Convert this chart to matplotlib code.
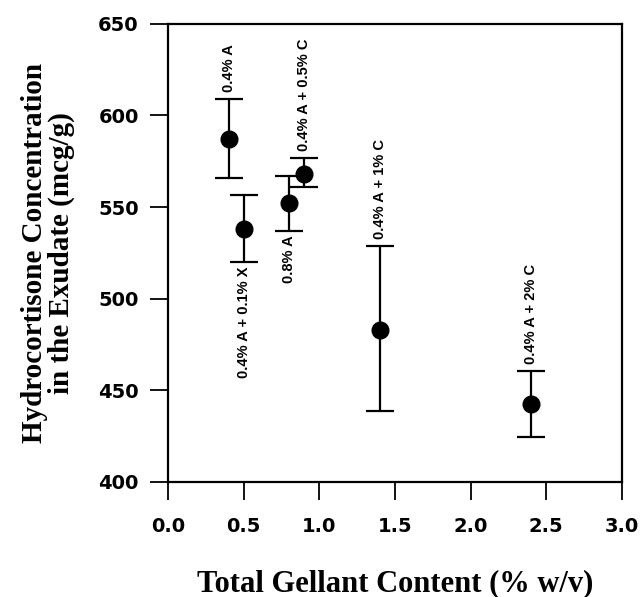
import matplotlib
matplotlib.use('Agg')
import matplotlib.pyplot as plt

# данные
gellant = [0.4, 0.5, 0.8, 0.9, 1.4, 2.4]
concentration = [587, 538, 552, 568, 483, 442.5]
err_low = [21, 18, 15, 7, 44.5, 18]
err_high = [22, 18.5, 15, 9, 45.5, 18]
labels = ['0.4% A', '0.4% A + 0.1% X', '0.8% A', '0.4% A + 0.5% C',
          '0.4% A + 1% C', '0.4% A + 2% C']
label_above = [True, False, False, True, True, True]

x_ticks = [0.0, 0.5, 1.0, 1.5, 2.0, 2.5, 3.0]
y_ticks = [400, 450, 500, 550, 600, 650]

fig = plt.figure(figsize=(6.4, 5.97), dpi=100)
ax = fig.add_axes([0.2625, 0.193, 0.709, 0.767])

ax.errorbar(gellant, concentration, yerr=[err_low, err_high], fmt='o',
            color='black', markersize=12, capsize=10, elinewidth=1.6,
            capthick=1.6)

for x, y, lo, hi, text, above in zip(gellant, concentration, err_low,
                                     err_high, labels, label_above):
    if above:
        ax.annotate(text, (x, y + hi), xytext=(0, 5), textcoords='offset points',
                    rotation=90, ha='center', va='bottom', fontsize=10.5,
                    fontweight='bold', family='Liberation Sans')
    else:
        ax.annotate(text, (x, y - lo), xytext=(0, -3), textcoords='offset points',
                    rotation=90, ha='center', va='top', fontsize=10.5,
                    fontweight='bold', family='Liberation Sans')

ax.set_xlim(0, 3.0)
ax.set_ylim(400, 650)
ax.set_xticks(x_ticks)
ax.set_yticks(y_ticks)
ax.set_xticklabels(['%.1f' % t for t in x_ticks])
ax.tick_params(direction='out', length=13, width=1.3, labelsize=14, pad=8)
ax.tick_params(axis='x', pad=12)
for lbl in ax.get_xticklabels() + ax.get_yticklabels():
    lbl.set_fontfamily('DejaVu Sans')
    lbl.set_fontweight('bold')
for sp in ax.spines.values():
    sp.set_linewidth(1.6)

ax.set_xlabel('Total Gellant Content (% w/v)', fontsize=22, fontweight='bold',
              family='Liberation Serif', labelpad=24)
ax.set_ylabel('Hydrocortisone Concentration\nin the Exudate (mcg/g)', fontsize=21,
              fontweight='bold', family='Liberation Serif', labelpad=17,
              linespacing=0.95)

plt.savefig('out.png', dpi=100)
